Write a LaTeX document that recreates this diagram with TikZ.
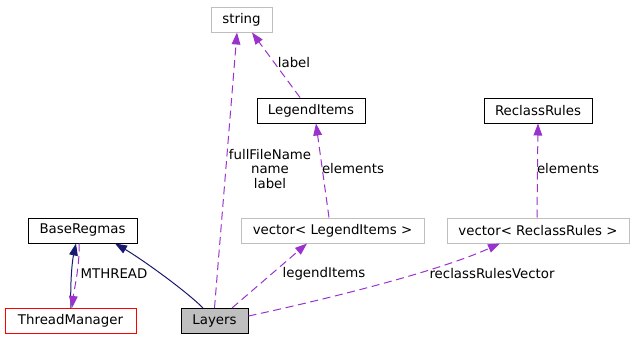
\documentclass[tikz,border=0pt]{standalone}
\usepackage{fontspec}
\setmainfont{DejaVu Sans}
\usetikzlibrary{arrows.meta,calc}
\definecolor{usesEdge}{HTML}{9A32CD}
\definecolor{inhEdge}{HTML}{191970}
\definecolor{extBorder}{HTML}{BFBFBF}
\definecolor{curFill}{HTML}{BFBFBF}
\tikzset{
    every node/.append style={align=center},
    box/.style={rectangle,draw=black,line width=0.75pt,minimum height=18.75pt,
        inner xsep=2pt,inner ysep=0pt,font=\fontsize{10}{12}\selectfont},
    extbox/.style={box,draw=extBorder},
    arr/.style={-{Triangle[length=9pt,width=6.5pt]},line width=0.75pt,draw=inhEdge},
    darr/.style={-{Triangle[length=9pt,width=6.5pt]},line width=0.75pt,draw=usesEdge,
        dash pattern=on 6pt off 3.5pt},
    lbl/.style={font=\fontsize{10}{10.9}\selectfont,inner sep=0pt}
}

\begin{document}
\begin{tikzpicture}[x=0.75pt,y=-0.75pt]
    \useasboundingbox (0,0) rectangle (633,339);
    % classes
    \node[extbox,minimum width=45.75pt] (str) at (241.5,19.5) {string};
    \node[box,minimum width=81pt] (legend) at (311,110.5) {LegendItems};
    \node[box,minimum width=81pt] (reclass) at (538,110.5) {ReclassRules};
    \node[box,minimum width=81.75pt] (base) at (82.5,230.5) {BaseRegmas};
    \node[extbox,minimum width=137.25pt] (vecLegend) at (332.5,230.5) {vector\textless{} LegendItems \textgreater};
    \node[extbox,minimum width=136.5pt] (vecReclass) at (538,230.5) {vector\textless{} ReclassRules \textgreater};
    \node[box,draw=red,minimum width=98.25pt] (thread) at (70.5,321) {ThreadManager};
    \node[box,fill=curFill,minimum width=50.25pt] (layers) at (214.5,321) {Layers};

    % edge labels
    \node[lbl] (lblFile) at (270,169) {fullFileName\\name\\label};
    \node[lbl] (lblLabel) at (294,63) {label};
    \node[lbl] (lblElemL) at (353,169) {elements};
    \node[lbl] (lblElemR) at (568,169) {elements};
    \node[lbl] (lblMthread) at (114,274) {MTHREAD};
    \node[lbl] (lblLegend) at (324,274) {legendItems};
    \node[lbl] (lblReclass) at (492,274) {reclassRulesVector};

    % inheritance
    \draw[arr] ($(layers.north)+(-11.5,0)$) .. controls (185,290) and (140,258) .. ($(base.south)+(32.5,0)$);
    \draw[arr] ($(thread.north)+(0.5,0)$) .. controls (70,285) and (72,262) .. ($(base.south)+(-6.5,0)$);

    % usage
    \draw[darr] ($(base.south)+(-3.5,0)$) .. controls (80,265) and (74,290) .. ($(thread.north)+(1.5,0)$);
    \draw[darr] (layers.north) -- ($(str.south)+(-4.5,0)$);
    \draw[darr] ($(legend.north)+(-11,0)$) -- ($(str.south)+(10.5,0)$);
    \draw[darr] ($(vecLegend.north)+(-3.5,0)$) -- ($(legend.south)+(5,0)$);
    \draw[darr] ($(vecReclass.north)+(-1,0)$) -- (reclass.south);
    \draw[darr] ($(layers.north)+(17.5,0)$) -- ($(vecLegend.south)+(-25.5,0)$);
    \draw[darr] ($(layers.east)+(0,-5)$) .. controls (300,305) and (430,275) .. ($(vecReclass.south)+(-38,0)$);
\end{tikzpicture}
\end{document}
